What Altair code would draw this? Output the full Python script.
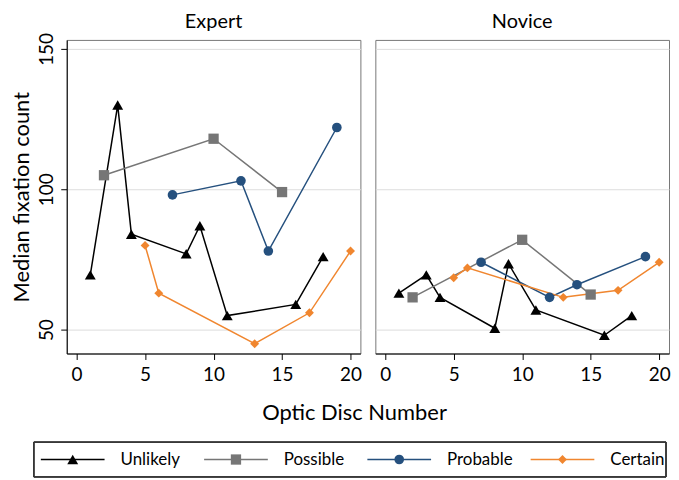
import altair as alt
import pandas as pd

categories = ["Unlikely", "Possible", "Probable", "Certain"]
colors = ["#000000", "#767676", "#25507e", "#f0862f"]
shapes = ["triangle-up", "square", "circle", "M0,-1L1,0L0,1L-1,0Z"]
marker_sizes = [120, 80, 85, 220]
groups = ["Expert", "Novice"]

# Expert
exp_unlikely_x = [1, 3, 4, 8, 9, 11, 16, 18]
exp_unlikely_y = [69.5, 130, 84, 77, 87, 55, 59, 76]
exp_possible_x = [2, 10, 15]
exp_possible_y = [105, 118, 99]
exp_probable_x = [7, 12, 14, 19]
exp_probable_y = [98, 103, 78, 122]
exp_certain_x = [5, 6, 13, 17, 20]
exp_certain_y = [80, 63, 45, 56, 78]

# Novice
nov_unlikely_x = [1, 3, 4, 8, 9, 11, 16, 18]
nov_unlikely_y = [63, 69.5, 61.5, 50.5, 73.5, 57, 48, 55]
nov_possible_x = [2, 10, 15]
nov_possible_y = [61.5, 82, 62.5]
nov_probable_x = [7, 12, 14, 19]
nov_probable_y = [74, 61.5, 66, 76]
nov_certain_x = [5, 6, 13, 17, 20]
nov_certain_y = [68.5, 72, 61.5, 64, 74]

x_ticks = [0, 5, 10, 15, 20]
y_ticks = [50, 100, 150]

rows = []
series = {
    ("Expert", "Unlikely"): (exp_unlikely_x, exp_unlikely_y),
    ("Expert", "Possible"): (exp_possible_x, exp_possible_y),
    ("Expert", "Probable"): (exp_probable_x, exp_probable_y),
    ("Expert", "Certain"): (exp_certain_x, exp_certain_y),
    ("Novice", "Unlikely"): (nov_unlikely_x, nov_unlikely_y),
    ("Novice", "Possible"): (nov_possible_x, nov_possible_y),
    ("Novice", "Probable"): (nov_probable_x, nov_probable_y),
    ("Novice", "Certain"): (nov_certain_x, nov_certain_y),
}
for (g, c), (xs_, ys_) in series.items():
    for xv, yv in zip(xs_, ys_):
        rows.append({"group": g, "cat": c, "disc": xv, "count": yv})
df = pd.DataFrame(rows)

FONT = "Lato"
color_scale = alt.Scale(domain=categories, range=colors)
shape_scale = alt.Scale(domain=categories, range=shapes)
size_scale = alt.Scale(domain=categories, range=marker_sizes)
xs = alt.Scale(domain=[-0.72, 20.72], nice=False, zero=False)
ys = alt.Scale(domain=[41.5, 153.2], nice=False, zero=False)


def panel(g, with_y, title_offset):
    d = df[df.group == g]
    if with_y:
        yaxis = alt.Axis(values=y_ticks, title="Median fixation count", titleFontSize=22,
                         titleFontWeight="normal", titleFont=FONT, titleColor="black",
                         labelFont=FONT, labelFontSize=19, labelColor="black",
                         labelAngle=270, labelAlign="center", labelBaseline="bottom",
                         labelPadding=4, tickSize=6, tickColor="black",
                         domainColor="black", gridColor="#dddddd", titlePadding=4)
    else:
        yaxis = alt.Axis(values=y_ticks, title=None, labels=False, ticks=False,
                         domain=False, gridColor="#dddddd")
    xaxis = alt.Axis(values=x_ticks, title=None, labelFont=FONT, labelFontSize=19,
                     labelColor="black", tickSize=6, tickColor="black",
                     domainColor="black", grid=False, labelPadding=6)
    base = alt.Chart(d).encode(
        x=alt.X("disc:Q", scale=xs, axis=xaxis),
        y=alt.Y("count:Q", scale=ys, axis=yaxis),
        color=alt.Color("cat:N", scale=color_scale, legend=None),
    )
    lines = base.mark_line(strokeWidth=1.5).encode(detail="cat:N", order="disc:Q")
    pts = base.mark_point(filled=True, opacity=1).encode(
        shape=alt.Shape("cat:N", scale=shape_scale, legend=None),
        size=alt.Size("cat:N", scale=size_scale, legend=None))
    return alt.layer(lines, pts).properties(
        width=295, height=315,
        title=alt.TitleParams(g, fontSize=20, font=FONT, fontWeight="normal",
                              color="black", offset=title_offset, frame="group"))


top = alt.hconcat(panel("Expert", True, 0), panel("Novice", False, 8), spacing=12).properties(
    title=alt.TitleParams("Optic Disc Number", orient="bottom", anchor="middle",
                          fontSize=22, font=FONT, fontWeight="normal", color="black",
                          offset=18, dx=14))

leg_df = pd.DataFrame({"cat": categories, "i": list(range(len(categories)))})
leg_base = alt.Chart(leg_df).transform_calculate(
    x0="datum.i * 164 - 26",
    x1="datum.i * 164 + 38",
    xm="datum.i * 164 + 6",
    xt="datum.i * 164 + 54",
)
frame = alt.Chart(leg_df).mark_rect(fill="transparent", stroke="#333333", strokeWidth=1).encode(
    x=alt.value(-33), x2=alt.value(602), y=alt.value(0), y2=alt.value(35))
leg_lines = leg_base.mark_rule(strokeWidth=1.5).encode(
    x=alt.X("x0:Q", scale=None, axis=None), x2="x1:Q", y=alt.value(17.5),
    color=alt.Color("cat:N", scale=color_scale, legend=None))
leg_pts = leg_base.mark_point(filled=True, opacity=1).encode(
    x=alt.X("xm:Q", scale=None, axis=None), y=alt.value(17.5),
    color=alt.Color("cat:N", scale=color_scale, legend=None),
    shape=alt.Shape("cat:N", scale=shape_scale, legend=None),
    size=alt.Size("cat:N", scale=size_scale, legend=None))
leg_text = leg_base.mark_text(align="left", baseline="middle", font=FONT, fontSize=17,
                              color="black").encode(
    x=alt.X("xt:Q", scale=None, axis=None), y=alt.value(17.5), text="cat:N")
legend = alt.layer(frame, leg_lines, leg_pts, leg_text).properties(
    width=602, height=35, view=alt.ViewBackground(strokeOpacity=0))

chart = alt.vconcat(top, legend, spacing=17).properties(
    padding={"left": 2, "top": 2, "right": 0, "bottom": 0}).configure_view(
    stroke="#777777", strokeWidth=1)

chart.save("out.html", embed_options={"renderer": "svg", "actions": False})
